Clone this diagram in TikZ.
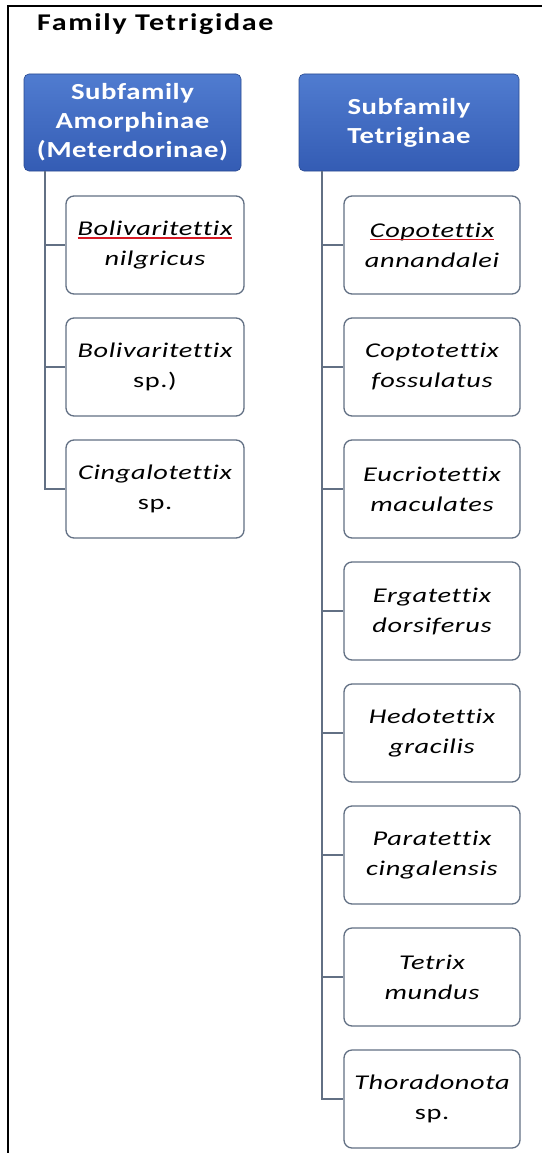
\documentclass[tikz,border=0pt]{standalone}
\usepackage{fontspec}
\setmainfont{Carlito}[Ligatures=NoCommon]
\newfontfamily\titlefont{Carlito}[FakeStretch=1.25, LetterSpace=7, Ligatures=NoCommon]
\newfontfamily\headfont{Carlito}[FakeStretch=1.25, LetterSpace=2.5, Ligatures=NoCommon]
\newfontfamily\taxonfont{Carlito}[FakeStretch=1.35, LetterSpace=3, Ligatures=NoCommon]
\usetikzlibrary{positioning}
\definecolor{headtop}{RGB}{80,124,208}
\definecolor{headbot}{RGB}{52,92,180}
\definecolor{linegray}{RGB}{98,112,132}
\definecolor{spellred}{RGB}{215,25,35}
\newsavebox{\spellbox}
\newcommand{\spellmark}[1]{\sbox{\spellbox}{#1}\rlap{\usebox{\spellbox}}\textcolor{spellred}{\rule[-3.2pt]{\wd\spellbox}{1.5pt}}}
\tikzset{
  headbox/.style={rounded corners=5pt, top color=headtop, bottom color=headbot,
    draw=headbot!80!black, line width=0.6pt, minimum height=97pt,
    inner sep=0pt, align=center, text=white, font=\headfont\fontsize{23}{29}\selectfont\bfseries},
  taxonbox/.style={rounded corners=8pt, draw=linegray, fill=white, line width=1.3pt,
    minimum height=98pt, inner sep=0pt, align=center,
    font=\taxonfont\fontsize{21}{30}\selectfont},
  branch/.style={draw=linegray, line width=1.4pt}
}
\begin{document}
\begin{tikzpicture}[x=1pt, y=-1pt]
	\useasboundingbox (0,0) rectangle (542,1153);
	\fill[white] (0,0) rectangle (542,1153);
	% frame
	\draw[line width=2.2pt] (8,1153) -- (8,6) -- (542,6);
	\node[anchor=base west, inner sep=0pt, font=\titlefont\fontsize{24}{28}\selectfont\bfseries] (title) at (37,31) {Family Tetrigidae};
	% subfamily headers
	\node[headbox, minimum width=217pt] (amor) at (132.5,122.5) {Subfamily\\Amorphinae\\(Meterdorinae)};
	\node[headbox, minimum width=220pt] (tetr) at (409,122.5) {Subfamily\\Tetriginae};
	% Amorphinae
	\foreach \name/\txt [count=\i] in {
		a1/{\spellmark{\itshape Bolivaritettix}\\\itshape nilgricus},
		a2/{\itshape Bolivaritettix\\sp.)},
		a3/{\itshape Cingalotettix\\sp.}}{
		\node[taxonbox, minimum width=178pt] (\name) at (155,{123+122*\i}) {\txt};
	}
	% Tetriginae
	\foreach \name/\txt [count=\i] in {
		t1/{\spellmark{\itshape Copotettix}\\\itshape annandalei},
		t2/{\itshape Coptotettix\\\itshape fossulatus},
		t3/{\itshape Eucriotettix\\\itshape maculates},
		t4/{\itshape Ergatettix\\\itshape dorsiferus},
		t5/{\itshape Hedotettix\\\itshape gracilis},
		t6/{\itshape Paratettix\\\itshape cingalensis},
		t7/{\itshape Tetrix\\\itshape mundus},
		t8/{\itshape Thoradonota\\sp.}}{
		\node[taxonbox, minimum width=176pt] (\name) at (432,{123+122*\i}) {\txt};
	}
	% connectors
	\foreach \c in {a1,a2,a3}
		\draw[branch] (45,0 |- amor.south) |- (\c.west);
	\foreach \c in {t1,t2,t3,t4,t5,t6,t7,t8}
		\draw[branch] (322,0 |- tetr.south) |- (\c.west);
\end{tikzpicture}
\end{document}
